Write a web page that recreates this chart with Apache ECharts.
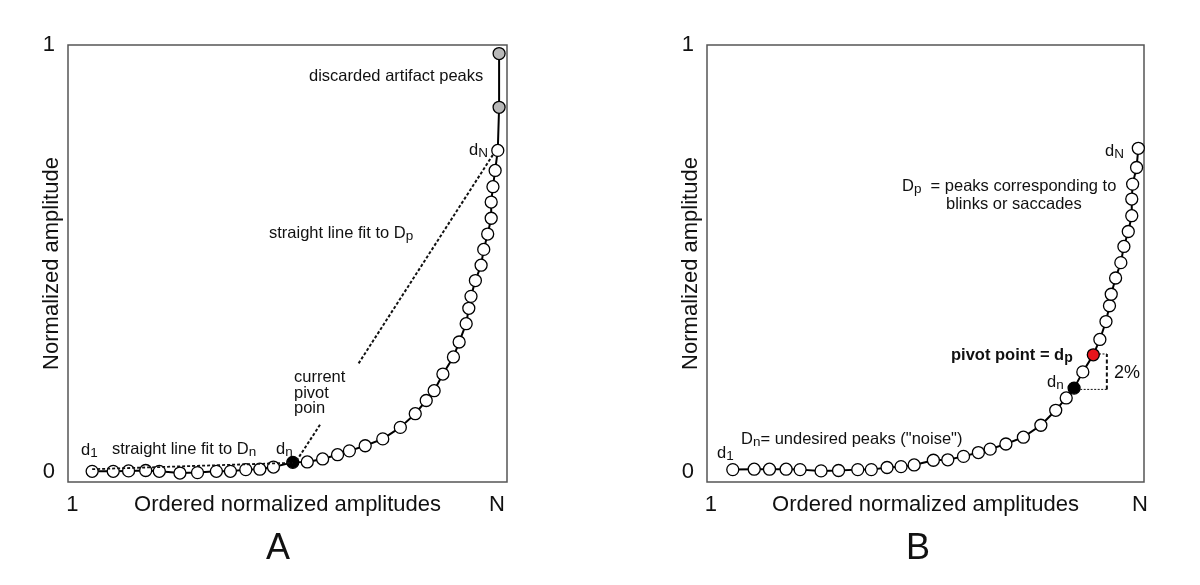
<!DOCTYPE html>
<html>
<head>
<meta charset="utf-8">
<script src="https://cdn.jsdelivr.net/npm/echarts@6/dist/echarts.min.js"></script>
<style>
  html, body { margin: 0; padding: 0; background: #fff; }
  #chart { width: 1200px; height: 585px; }
</style>
</head>
<body>
<div id="chart"></div>
<script>
// panel A: ordered peak amplitudes (rank position 0..100 across the box, amplitude 0..1)
const rankA = [5.5, 10.3, 13.8, 17.7, 20.8, 25.5, 29.5, 33.8, 37.0, 40.5, 43.7, 46.8, 51.2, 54.5, 58.0, 61.4, 64.1, 67.7, 71.7, 75.7,
  79.1, 81.6, 83.4, 85.4, 87.8, 89.1, 90.7, 91.3, 91.8, 92.8, 94.1, 94.7, 95.6, 96.4, 96.4, 96.8, 97.3, 97.9, 98.2, 98.2]
const ampA = [0.001, 0.001, 0.002, 0.003, 0.001, -0.003, -0.002, 0.001, 0.001, 0.005, 0.006, 0.011, 0.022, 0.023, 0.030, 0.040, 0.049, 0.061, 0.077, 0.104,
  0.136, 0.167, 0.190, 0.229, 0.269, 0.304, 0.347, 0.383, 0.411, 0.448, 0.484, 0.521, 0.557, 0.594, 0.632, 0.668, 0.706, 0.753, 0.854, 0.980]
const pivotIdxA = 12
const artifactIdxA = [38, 39]
const fitDnA = [[5.5, 0.006], [51.2, 0.021]]
const fitDpA = [[66.2, 0.254], [97.0, 0.746]]
const pointerA = [[57.4, 0.110], [52.2, 0.028]]

// panel B
const rankB = [5.9, 10.8, 14.3, 18.1, 21.3, 26.1, 30.1, 34.5, 37.6, 41.2, 44.4, 47.4, 51.8, 55.1, 58.7, 62.1, 64.8, 68.4, 72.4, 76.4,
  79.8, 82.2, 84.0, 86.0, 88.4, 89.9, 91.3, 92.1, 92.5, 93.5, 94.7, 95.4, 96.4, 97.2, 97.2, 97.4, 98.3, 98.7]
const ampB = [0.005, 0.006, 0.006, 0.006, 0.005, 0.002, 0.003, 0.005, 0.005, 0.010, 0.012, 0.016, 0.027, 0.028, 0.036, 0.045, 0.053, 0.065, 0.081, 0.109,
  0.144, 0.173, 0.196, 0.234, 0.274, 0.310, 0.352, 0.389, 0.416, 0.454, 0.490, 0.528, 0.563, 0.600, 0.639, 0.674, 0.713, 0.758]
const dnIdxB = 22
const dpIdxB = 24
const gapLowB = [[84.6, 0.193], [91.5, 0.193]]
const gapHighB = [[88.9, 0.276], [91.5, 0.276]]
const gapSideB = [[91.5, 0.193], [91.5, 0.276]]

// axis ticks
const yTickValues = [0, 1]
const xTickValuesA = [1, 97.7]
const xTickValuesB = [0.9, 99.1]
const xTickLabels = ['1', 'N']

const FONT = '"Liberation Sans", Arial, sans-serif'
const INK = '#111'

function points(xs, ys, special) {
  return xs.map((x, i) => {
    const d = { value: [x, ys[i]] }
    if (special[i]) d.itemStyle = { color: special[i] }
    return d
  })
}

const specialA = {}
specialA[pivotIdxA] = '#000'
artifactIdxA.forEach(i => { specialA[i] = '#b8b8b8' })
const specialB = {}
specialB[dnIdxB] = '#000'
specialB[dpIdxB] = '#e8141b'

function xAxis(idx, ticks) {
  return {
    type: 'value', gridIndex: idx, min: 0, max: 100,
    name: 'Ordered normalized amplitudes', nameLocation: 'middle', nameGap: 12, nameMoveOverlap: false,
    nameTextStyle: { fontSize: 22, color: INK, fontFamily: FONT },
    axisLine: { show: false }, axisTick: { show: false }, splitLine: { show: false },
    axisLabel: {
      customValues: ticks, margin: 12, fontSize: 22, color: INK, fontFamily: FONT,
      formatter: v => xTickLabels[ticks.indexOf(v)] ?? ''
    }
  }
}

function yAxis(idx) {
  return {
    type: 'value', gridIndex: idx, min: -0.024, max: 1,
    name: 'Normalized amplitude', nameLocation: 'middle', nameGap: 5, nameMoveOverlap: false,
    nameTextStyle: { fontSize: 22, color: INK, fontFamily: FONT },
    axisLine: { show: false }, axisTick: { show: false }, splitLine: { show: false },
    axisLabel: {
      customValues: yTickValues, margin: 13, fontSize: 22, color: INK, fontFamily: FONT,
      formatter: v => String(v)
    }
  }
}

function guide(idx, data, width, dash, z) {
  return {
    type: 'line', xAxisIndex: idx, yAxisIndex: idx, data, symbol: 'none', silent: true, z: z || 3,
    lineStyle: { color: INK, width, type: dash }
  }
}

function peaks(idx, data) {
  return {
    type: 'line', xAxisIndex: idx, yAxisIndex: idx, data, z: 2,
    symbol: 'circle', symbolSize: 12, showAllSymbol: true,
    lineStyle: { color: '#000', width: 2 },
    itemStyle: { color: '#fff', borderColor: '#000', borderWidth: 1.3 }
  }
}

const base = { fontSize: 16.5, fontFamily: FONT, lineHeight: 20 }
const sub = { fontSize: 13.5, fontFamily: FONT, lineHeight: 8, verticalAlign: 'bottom' }
function label(x, y, text, extra) {
  return {
    type: 'text', x, y, z: 10,
    style: Object.assign({
      text, fill: INK, font: '16.5px ' + FONT,
      align: 'left', verticalAlign: 'middle', textAlign: 'left', textVerticalAlign: 'middle',
      rich: { b: base, s: sub, bb: Object.assign({}, base, { fontWeight: 'bold' }), sb: Object.assign({}, sub, { fontWeight: 'bold', fontSize: 14 }) }
    }, extra || {})
  }
}

const chart = echarts.init(document.getElementById('chart'), null, { renderer: 'canvas' })
chart.setOption({
  animation: false,
  backgroundColor: '#fff',
  grid: [
    { left: 68, top: 45, width: 439, height: 437, show: true, borderColor: '#555', borderWidth: 1.5, backgroundColor: 'transparent' },
    { left: 707, top: 45, width: 437, height: 437, show: true, borderColor: '#555', borderWidth: 1.5, backgroundColor: 'transparent' }
  ],
  xAxis: [xAxis(0, xTickValuesA), xAxis(1, xTickValuesB)],
  yAxis: [yAxis(0), yAxis(1)],
  series: [
    peaks(0, points(rankA, ampA, specialA)),
    guide(0, fitDnA, 1.8, [3, 2], 4),
    guide(0, fitDpA, 2, [3, 2]),
    guide(0, pointerA, 2, [3, 2]),
    peaks(1, points(rankB, ampB, specialB)),
    guide(1, gapLowB, 1, [2, 1.5], 1),
    guide(1, gapHighB, 1, [2, 1.5], 1),
    guide(1, gapSideB, 2, [4, 2.5], 1)
  ],
  graphic: [
    label(309, 76, 'discarded artifact peaks'),
    label(469, 150, '{b|d}{s|N}'),
    label(269, 233, '{b|straight line fit to D}{s|p}'),
    label(294, 393, 'current\npivot\npoin', { lineHeight: 15.5 }),
    label(81, 450, '{b|d}{s|1}'),
    label(112, 449, '{b|straight line fit to D}{s|n}'),
    label(276, 449, '{b|d}{s|n}'),
    label(1105, 151, '{b|d}{s|N}'),
    label(902, 186, '{b|D}{s|p}{b|  = peaks corresponding to}'),
    label(946, 204, 'blinks or saccades'),
    label(951, 355, '{bb|pivot point = d}{sb|p}'),
    label(1047, 382, '{b|d}{s|n}'),
    label(717, 453, '{b|d}{s|1}'),
    label(741, 439, '{b|D}{s|n}{b|= undesired peaks ("noise")}'),
    label(1114, 373, '2%', { font: '18px ' + FONT }),
    label(278, 549, 'A', { font: '36px ' + FONT, align: 'center', textAlign: 'center' }),
    label(918, 549, 'B', { font: '36px ' + FONT, align: 'center', textAlign: 'center' })
  ]
})
</script>
</body>
</html>
